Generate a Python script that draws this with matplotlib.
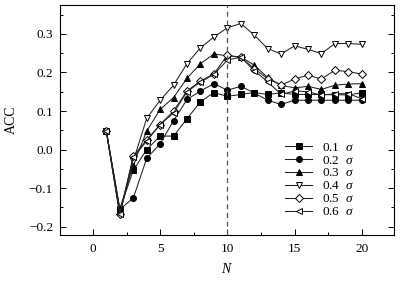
import matplotlib
matplotlib.use("Agg")
import matplotlib.pyplot as plt
from matplotlib.ticker import MultipleLocator

plt.rcParams['font.family'] = ['Liberation Serif', 'DejaVu Serif']
plt.rcParams['mathtext.fontset'] = 'custom'
plt.rcParams['mathtext.it'] = 'Liberation Serif:italic'
plt.rcParams['mathtext.rm'] = 'Liberation Serif'

N = list(range(1, 21))
acc_01 = [0.047, -0.155, -0.054, 0.000, 0.035, 0.035, 0.080, 0.124, 0.148, 0.138,
          0.143, 0.148, 0.143, 0.147, 0.143, 0.143, 0.143, 0.142, 0.142, 0.147]
acc_02 = [0.047, -0.155, -0.126, -0.023, 0.015, 0.075, 0.130, 0.152, 0.171, 0.154,
          0.164, 0.147, 0.128, 0.117, 0.128, 0.128, 0.128, 0.128, 0.128, 0.128]
acc_03 = [0.047, -0.155, -0.040, 0.048, 0.104, 0.135, 0.185, 0.223, 0.248, 0.243,
          0.240, 0.219, 0.187, 0.167, 0.160, 0.164, 0.156, 0.167, 0.170, 0.171]
acc_04 = [0.047, -0.168, -0.030, 0.081, 0.128, 0.167, 0.223, 0.264, 0.292, 0.316,
          0.327, 0.297, 0.262, 0.248, 0.269, 0.260, 0.249, 0.275, 0.275, 0.273]
acc_05 = [0.047, -0.168, -0.017, 0.025, 0.065, 0.100, 0.152, 0.178, 0.196, 0.245,
          0.239, 0.210, 0.184, 0.167, 0.183, 0.193, 0.183, 0.206, 0.202, 0.196]
acc_06 = [0.047, -0.168, -0.020, 0.022, 0.065, 0.095, 0.150, 0.175, 0.195, 0.232,
          0.240, 0.205, 0.176, 0.143, 0.152, 0.150, 0.141, 0.145, 0.145, 0.132]
labels = ["0.1  $\\sigma$", "0.2  $\\sigma$", "0.3  $\\sigma$",
          "0.4  $\\sigma$", "0.5  $\\sigma$", "0.6  $\\sigma$"]

series = [acc_01, acc_02, acc_03, acc_04, acc_05, acc_06]
markers = ['s', 'o', '^', 'v', 'D', '<']
filled = [True, True, True, False, False, False]
msizes = [4.0, 4.3, 4.8, 4.8, 3.8, 4.8]

fig = plt.figure(figsize=(4.07, 2.83), dpi=100)
ax = fig.add_axes([60/407, 1-235/283, 334/407, 230/283])

for y, m, f, ms, lab in zip(series, markers, filled, msizes, labels):
    ax.plot(N, y, color='#222222', lw=0.75, marker=m, ms=ms,
            markerfacecolor='black' if f else 'white',
            markeredgecolor='black', markeredgewidth=0.7, label=lab)

ax.axvline(10, color='#555555', lw=0.9, ls=(0, (4, 3)))

ax.set_xlim(-2.45, 22.4)
ax.set_ylim(-0.2216, 0.375)
ax.xaxis.set_major_locator(MultipleLocator(5))
ax.xaxis.set_minor_locator(MultipleLocator(2.5))
ax.yaxis.set_major_locator(MultipleLocator(0.1))
ax.yaxis.set_minor_locator(MultipleLocator(0.05))
ax.tick_params(which='both', direction='in', right=True, top=False,
               labelsize=9.5, width=0.7)
ax.tick_params(which='major', length=4)
ax.tick_params(axis='x', which='major', pad=6)
ax.tick_params(axis='y', which='major', pad=5)
ax.tick_params(which='minor', length=2.5)
ax.yaxis.set_major_formatter(plt.FuncFormatter(
    lambda v, p: ("\u2212" if v < -1e-9 else "") + "%.1f" % abs(v)))
for s in ax.spines.values():
    s.set_linewidth(0.8)

ax.set_xlabel("$N$", fontsize=10, labelpad=5)
ax.set_ylabel("ACC", fontsize=10, labelpad=8)

ax.legend(loc='center left', bbox_to_anchor=(0.655, 0.24), frameon=False,
          fontsize=9.5, labelspacing=0.05, handlelength=2.0, handletextpad=0.8,
          borderpad=0)

fig.savefig("out.png", dpi=100)
